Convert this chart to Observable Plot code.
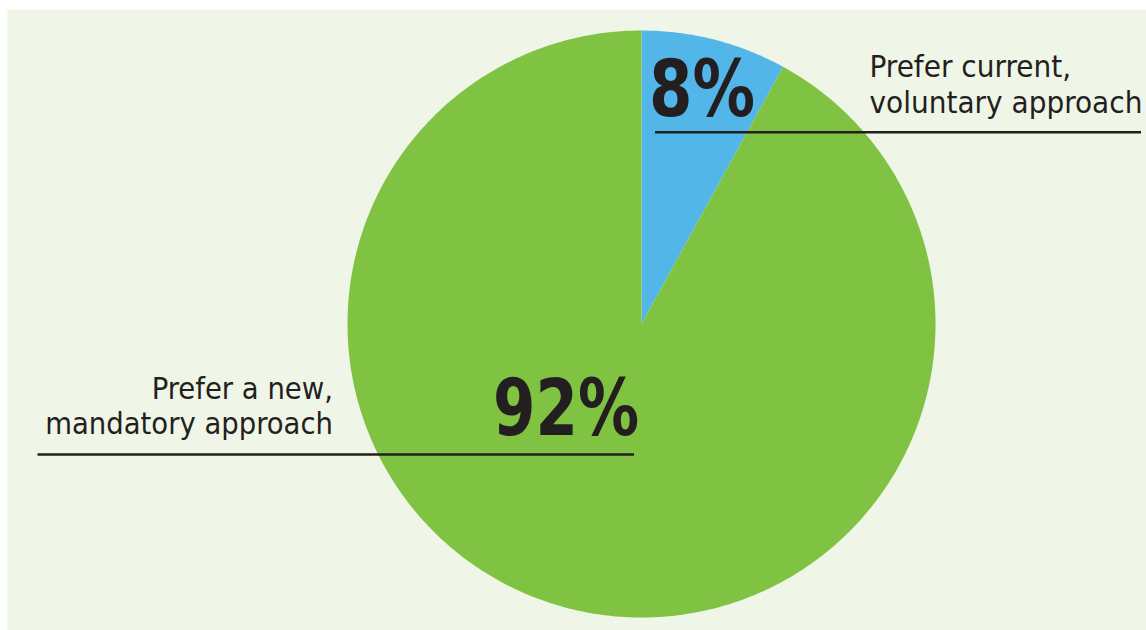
<!DOCTYPE html>
<html>
<head>
<meta charset="utf-8">
<script src="https://cdn.jsdelivr.net/npm/d3@7"></script>
<script src="https://cdn.jsdelivr.net/npm/@observablehq/plot@0.6"></script>
<style>
  html, body { margin: 0; padding: 0; background: #ffffff; overflow: hidden; }
  #chart svg { display: block; }
</style>
</head>
<body>
<div id="chart"></div>
<script>
const categories = ["Prefer current,\nvoluntary approach", "Prefer a new,\nmandatory approach"];
const values = [8, 92];
const percentLabels = ["8%", "92%"];

const sliceColors = ["#52b7e8", "#80c242"];
const INK = "#231f20";
const FONT = "'DejaVu Sans Condensed', 'DejaVu Sans', sans-serif";

const W = 1146, H = 630;
// pie frame in pixels: center (641, 323.5), radius ~294
const CX = 641, CY = 323.5, RX = 294, RY = 293.5;
const ux = px => (px - CX) / RX;   // pixel -> unit (layout helpers)
const uy = py => (CY - py) / RY;

// Pie layout in unit coordinates (center 0,0, radius 1, y up), clockwise from 12 o'clock
const arcs = d3.pie().sort(null).startAngle(0).endAngle(2 * Math.PI)(values);
function slicePoints(a) {
  const pts = [{x: 0, y: 0}];
  const n = Math.max(8, Math.ceil((a.endAngle - a.startAngle) / 0.01));
  for (let k = 0; k <= n; k++) {
    const t = a.startAngle + (a.endAngle - a.startAngle) * k / n;
    pts.push({x: Math.sin(t), y: Math.cos(t)});
  }
  return pts;
}
const sliceData = arcs.map(slicePoints);

const marks = [
  Plot.frame({fill: "#eff5e7", stroke: null, insetLeft: 7, insetTop: 9}),
  ...sliceData.map((pts, i) => Plot.line(pts, {
    x: "x", y: "y", curve: "linear-closed", fill: sliceColors[i], stroke: "none"
  })),
  // leader rules
  Plot.ruleY([uy(131.7)], {x1: ux(655), x2: ux(1141), stroke: INK, strokeWidth: 2.4}),
  Plot.ruleY([uy(454)], {x1: ux(37.5), x2: ux(634), stroke: INK, strokeWidth: 2.4}),
  // category labels
  Plot.text([categories[0]], {
    x: () => ux(869.5), y: () => uy(112.7), text: d => d, textAnchor: "start", lineAnchor: "bottom",
    fontSize: 31, lineHeight: 35.4 / 31, fill: INK, fontFamily: FONT
  }),
  Plot.text([categories[1]], {
    x: () => ux(333), y: () => uy(434), text: d => d, textAnchor: "end", lineAnchor: "bottom",
    fontSize: 31, lineHeight: 34.7 / 31, fill: INK, fontFamily: FONT
  }),
  // percentage labels
  Plot.text([percentLabels[0]], {
    x: () => ux(649), y: () => uy(116), text: d => d, textAnchor: "start", lineAnchor: "bottom",
    fontSize: 79, fontWeight: "bold", fill: INK, fontFamily: FONT
  }),
  Plot.text([percentLabels[1]], {
    x: () => ux(639), y: () => uy(435), text: d => d, textAnchor: "end", lineAnchor: "bottom",
    fontSize: 79, fontWeight: "bold", fill: INK, fontFamily: FONT
  })
];

const chart = Plot.plot({
  width: W,
  height: H,
  margin: 0,
  style: {background: "#ffffff", overflow: "visible"},
  x: {domain: [-1, 1], range: [CX - RX, CX + RX], axis: null},
  y: {domain: [-1, 1], range: [CY + RY, CY - RY], axis: null},
  marks
});
document.getElementById("chart").appendChild(chart);

// Condense the text horizontally to mimic the reference's condensed typeface
const fits = [
  {width: 273, anchor: 869.5},  // "voluntary approach"
  {width: 288, anchor: 333},    // "mandatory approach"
  {width: 106, anchor: 649},    // "8%"
  {width: 146, anchor: 639}     // "92%"
];
const textGroups = chart.querySelectorAll('g[aria-label="text"]');
textGroups.forEach((g, i) => {
  const f = fits[i];
  if (!f) return;
  const w = g.getBBox().width;
  if (!w) return;
  const s = f.width / w;
  g.setAttribute("transform", `translate(${f.anchor},0) scale(${s},1) translate(${-f.anchor},0)`);
});
</script>
</body>
</html>
